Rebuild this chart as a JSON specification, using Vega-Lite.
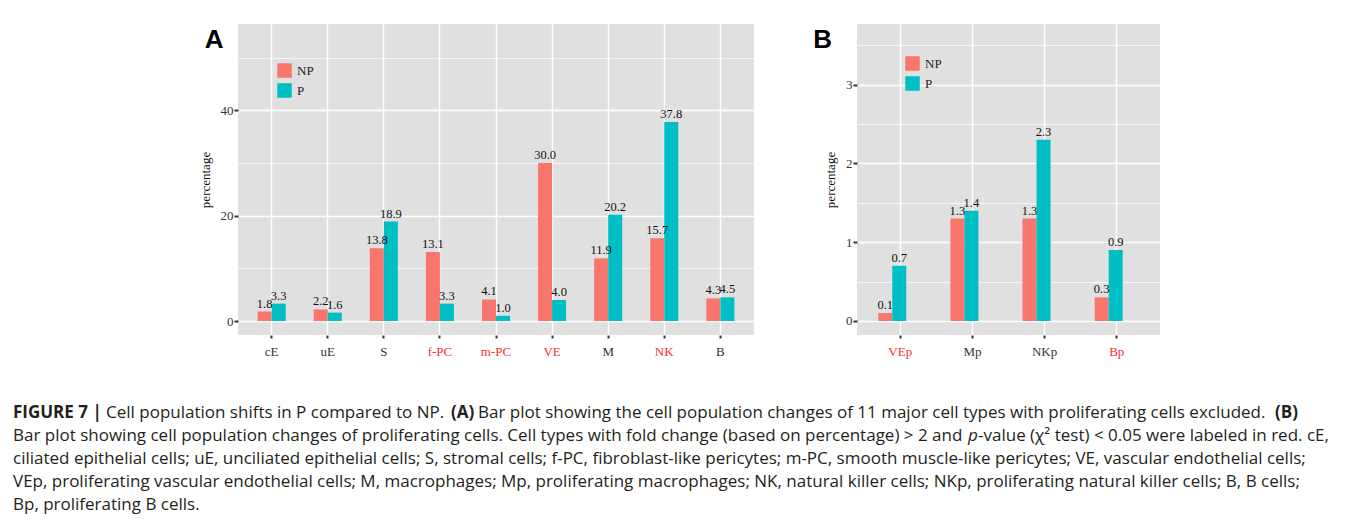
{
  "$schema": "https://vega.github.io/schema/vega-lite/v6.json",
  "padding": {"left": 13, "top": 24, "right": 8, "bottom": 4},
  "background": "white",
  "config": {
    "view": {"fill": "#E0E0E0", "stroke": null},
    "font": "Liberation Serif",
    "axis": {"labelFont": "Liberation Serif", "titleFont": "Liberation Serif", "labelColor": "#333333", "titleColor": "#111111", "tickColor": "#333333", "domain": false, "gridColor": "#FFFFFF"}
  },
  "spacing": 46,
  "vconcat": [
    {
      "bounds": "flush",
      "spacing": 103,
      "resolve": {"legend": {"color": "independent"}, "scale": {"color": "independent"}},
      "hconcat": [
        {
          "width": 122,
          "height": 311,
          "view": {"fill": "#FFFFFF", "stroke": null},
          "data": {"values": []},
          "mark": {"type": "text"}
        },
        {
          "width": 516,
          "height": 311,
          "data": {"values": [
            {"cell": "cE", "group": "NP", "value": 1.8}, {"cell": "cE", "group": "P", "value": 3.3},
            {"cell": "uE", "group": "NP", "value": 2.2}, {"cell": "uE", "group": "P", "value": 1.6},
            {"cell": "S", "group": "NP", "value": 13.8}, {"cell": "S", "group": "P", "value": 18.9},
            {"cell": "f-PC", "group": "NP", "value": 13.1}, {"cell": "f-PC", "group": "P", "value": 3.3},
            {"cell": "m-PC", "group": "NP", "value": 4.1}, {"cell": "m-PC", "group": "P", "value": 1.0},
            {"cell": "VE", "group": "NP", "value": 30.0}, {"cell": "VE", "group": "P", "value": 4.0},
            {"cell": "M", "group": "NP", "value": 11.9}, {"cell": "M", "group": "P", "value": 20.2},
            {"cell": "NK", "group": "NP", "value": 15.7}, {"cell": "NK", "group": "P", "value": 37.8},
            {"cell": "B", "group": "NP", "value": 4.3}, {"cell": "B", "group": "P", "value": 4.5}
          ]},
          "encoding": {
            "x": {"field": "cell", "type": "nominal", "sort": null, "scale": {"paddingInner": 0, "paddingOuter": 0.1},
              "axis": {"title": null, "labelAngle": 0, "bandPosition": 0.5, "grid": true, "gridWidth": 1.4, "tickSize": 3, "tickWidth": 2, "labelPadding": 7, "labelFontSize": 13,
                "labelColor": {"condition": {"test": "indexof(['f-PC','m-PC','VE','NK'], datum.value) >= 0", "value": "#FF2D2D"}, "value": "#333333"}}}
          },
          "layer": [
            {
              "mark": {"type": "bar"},
              "encoding": {
                "xOffset": {"field": "group", "type": "nominal", "sort": ["NP", "P"], "scale": {"paddingInner": 0, "paddingOuter": 1}},
                "y": {"field": "value", "type": "quantitative", "scale": {"domain": [-2.65, 56.4], "nice": false, "zero": false},
                  "axis": {"title": "percentage", "values": [0, 20, 40], "grid": true, "gridWidth": 1.4, "tickSize": 4, "tickWidth": 2, "labelPadding": 1, "labelFontSize": 13, "titleFontSize": 13, "titleFontWeight": "normal", "titlePadding": 8}},
                "y2": {"datum": 0},
                "color": {"field": "group", "type": "nominal", "scale": {"domain": ["NP", "P"], "range": ["#F8766D", "#00BFC4"]},
                  "legend": {"title": null, "orient": "none", "legendX": 39, "legendY": 39, "symbolType": "square", "symbolSize": 210, "symbolStrokeWidth": 0, "labelFont": "Liberation Serif", "labelFontSize": 13, "labelColor": "#222222", "rowPadding": 5, "labelOffset": 5, "padding": 0}}
              }
            },
            {
              "mark": {"type": "text", "baseline": "bottom", "dy": -1, "font": "Liberation Serif", "fontSize": 12.5, "color": "#111111"},
              "encoding": {
                "xOffset": {"field": "group", "type": "nominal", "sort": ["NP", "P"], "scale": {"paddingInner": 0, "paddingOuter": 1}},
                "y": {"field": "value", "type": "quantitative", "scale": {"domain": [-2.65, 56.4], "nice": false, "zero": false},
                  "axis": {"orient": "right", "values": [10, 30, 50], "grid": true, "gridWidth": 0.7, "labels": false, "ticks": false, "domain": false, "title": null}},
                "text": {"field": "value", "type": "quantitative", "format": ".1f"}
              }
            },
            {
              "data": {"values": [{"panel": "A"}]},
              "mark": {"type": "text", "align": "left", "baseline": "alphabetic", "dx": -67, "dy": 24, "font": "Liberation Sans", "fontSize": 26, "fontWeight": "bold", "color": "#000000"},
              "encoding": {
                "x": {"datum": "cE", "type": "nominal"},
                "y": {"datum": 56.4, "type": "quantitative", "axis": null},
                "text": {"field": "panel", "type": "nominal"}
              }
            }
          ],
          "resolve": {"axis": {"y": "independent"}}
        },
        {
          "width": 303,
          "height": 311,
          "data": {"values": [
            {"cell": "VEp", "group": "NP", "value": 0.1}, {"cell": "VEp", "group": "P", "value": 0.7},
            {"cell": "Mp", "group": "NP", "value": 1.3}, {"cell": "Mp", "group": "P", "value": 1.4},
            {"cell": "NKp", "group": "NP", "value": 1.3}, {"cell": "NKp", "group": "P", "value": 2.3},
            {"cell": "Bp", "group": "NP", "value": 0.3}, {"cell": "Bp", "group": "P", "value": 0.9}
          ]},
          "encoding": {
            "x": {"field": "cell", "type": "nominal", "sort": null, "scale": {"paddingInner": 0, "paddingOuter": 0.1},
              "axis": {"title": null, "labelAngle": 0, "bandPosition": 0.5, "grid": true, "gridWidth": 1.4, "tickSize": 3, "tickWidth": 2, "labelPadding": 7, "labelFontSize": 13,
                "labelColor": {"condition": {"test": "indexof(['VEp','Bp'], datum.value) >= 0", "value": "#FF2D2D"}, "value": "#333333"}}}
          },
          "layer": [
            {
              "mark": {"type": "bar"},
              "encoding": {
                "xOffset": {"field": "group", "type": "nominal", "sort": ["NP", "P"], "scale": {"paddingInner": 0, "paddingOuter": 1}},
                "y": {"field": "value", "type": "quantitative", "scale": {"domain": [-0.178, 3.77], "nice": false, "zero": false},
                  "axis": {"title": "percentage", "values": [0, 1, 2, 3], "grid": true, "gridWidth": 1.4, "tickSize": 4, "tickWidth": 2, "labelPadding": 1, "labelFontSize": 13, "titleFontSize": 13, "titleFontWeight": "normal", "titlePadding": 8}},
                "y2": {"datum": 0},
                "color": {"field": "group", "type": "nominal", "scale": {"domain": ["NP", "P"], "range": ["#F8766D", "#00BFC4"]},
                  "legend": {"title": null, "orient": "none", "legendX": 48, "legendY": 32, "symbolType": "square", "symbolSize": 210, "symbolStrokeWidth": 0, "labelFont": "Liberation Serif", "labelFontSize": 13, "labelColor": "#222222", "rowPadding": 5, "labelOffset": 5, "padding": 0}}
              }
            },
            {
              "mark": {"type": "text", "baseline": "bottom", "dy": -1, "font": "Liberation Serif", "fontSize": 12.5, "color": "#111111"},
              "encoding": {
                "xOffset": {"field": "group", "type": "nominal", "sort": ["NP", "P"], "scale": {"paddingInner": 0, "paddingOuter": 1}},
                "y": {"field": "value", "type": "quantitative", "scale": {"domain": [-0.178, 3.77], "nice": false, "zero": false},
                  "axis": {"orient": "right", "values": [0.5, 1.5, 2.5, 3.5], "grid": true, "gridWidth": 0.7, "labels": false, "ticks": false, "domain": false, "title": null}},
                "text": {"field": "value", "type": "quantitative", "format": ".1f"}
              }
            },
            {
              "data": {"values": [{"panel": "B"}]},
              "mark": {"type": "text", "align": "left", "baseline": "alphabetic", "dx": -87, "dy": 24, "font": "Liberation Sans", "fontSize": 26, "fontWeight": "bold", "color": "#000000"},
              "encoding": {
                "x": {"datum": "VEp", "type": "nominal"},
                "y": {"datum": 3.77, "type": "quantitative", "axis": null},
                "text": {"field": "panel", "type": "nominal"}
              }
            }
          ],
          "resolve": {"axis": {"y": "independent"}}
        }
      ]
    },
    {
      "width": 100,
      "height": 92,
      "view": {"fill": null, "stroke": null},
      "data": {"values": [
        {"line": 1, "seg": "fig", "text": "FIGURE 7 |"},
        {"line": 1, "seg": "l1a", "text": "Cell population shifts in P compared to NP."},
        {"line": 1, "seg": "A", "text": "(A)"},
        {"line": 1, "seg": "l1b", "text": "Bar plot showing the cell population changes of 11 major cell types with proliferating cells excluded."},
        {"line": 1, "seg": "B", "text": "(B)"},
        {"line": 2, "seg": "main", "text": "Bar plot showing cell population changes of proliferating cells. Cell types with fold change (based on percentage) > 2 and"},
        {"line": 2, "seg": "p", "text": "p"},
        {"line": 2, "seg": "l2b", "text": "-value (χ² test) < 0.05 were labeled in red. cE,"},
        {"line": 3, "seg": "main", "text": "ciliated epithelial cells; uE, unciliated epithelial cells; S, stromal cells; f-PC, fibroblast-like pericytes; m-PC, smooth muscle-like pericytes; VE, vascular endothelial cells;"},
        {"line": 4, "seg": "main", "text": "VEp, proliferating vascular endothelial cells; M, macrophages; Mp, proliferating macrophages; NK, natural killer cells; NKp, proliferating natural killer cells; B, B cells;"},
        {"line": 5, "seg": "main", "text": "Bp, proliferating B cells."}
      ]},
      "encoding": {
        "y": {"field": "line", "type": "ordinal", "scale": {"type": "point", "padding": 0}, "axis": null},
        "x": {"datum": 0, "type": "quantitative", "scale": {"domain": [0, 1]}, "axis": null},
        "text": {"field": "text", "type": "nominal"}
      },
      "layer": [
        {"transform": [{"filter": "datum.seg === 'fig'"}], "mark": {"type": "text", "align": "left", "baseline": "middle", "dx": 0, "font": "Open Sans", "fontSize": 17, "fontWeight": "bold", "color": "#231F20"}},
        {"transform": [{"filter": "datum.seg === 'l1a'"}], "mark": {"type": "text", "align": "left", "baseline": "middle", "dx": 93, "font": "Open Sans", "fontSize": 17, "color": "#231F20"}},
        {"transform": [{"filter": "datum.seg === 'A'"}], "mark": {"type": "text", "align": "left", "baseline": "middle", "dx": 438, "font": "Open Sans", "fontSize": 17, "fontWeight": "bold", "color": "#231F20"}},
        {"transform": [{"filter": "datum.seg === 'l1b'"}], "mark": {"type": "text", "align": "left", "baseline": "middle", "dx": 465, "font": "Open Sans", "fontSize": 17, "color": "#231F20"}},
        {"transform": [{"filter": "datum.seg === 'B'"}], "mark": {"type": "text", "align": "left", "baseline": "middle", "dx": 1262, "font": "Open Sans", "fontSize": 17, "fontWeight": "bold", "color": "#231F20"}},
        {"transform": [{"filter": "datum.seg === 'p'"}], "mark": {"type": "text", "align": "left", "baseline": "middle", "dx": 955, "font": "Open Sans", "fontSize": 17, "fontStyle": "italic", "color": "#231F20"}},
        {"transform": [{"filter": "datum.seg === 'l2b'"}], "mark": {"type": "text", "align": "left", "baseline": "middle", "dx": 965, "font": "Open Sans", "fontSize": 17, "color": "#231F20"}},
        {"transform": [{"filter": "datum.seg === 'main'"}], "mark": {"type": "text", "align": "left", "baseline": "middle", "dx": 0, "font": "Open Sans", "fontSize": 17, "color": "#231F20"}}
      ]
    }
  ]
}
